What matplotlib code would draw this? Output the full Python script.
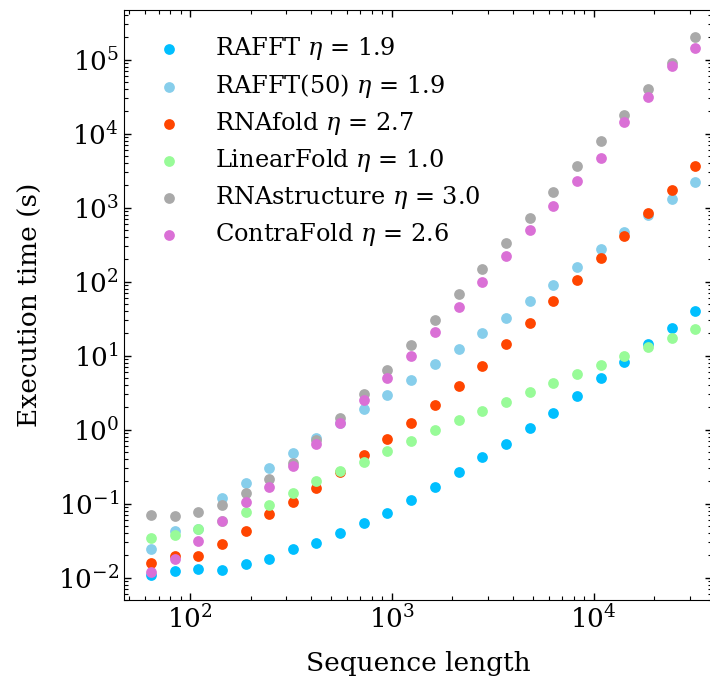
import matplotlib
matplotlib.use('Agg')
import matplotlib.pyplot as plt
from matplotlib.ticker import LogLocator, NullFormatter

plt.rcParams['font.family'] = 'DejaVu Serif'
plt.rcParams['mathtext.fontset'] = 'dejavuserif'
plt.rcParams['font.size'] = 19

# sequence lengths
seq_len = [64, 84, 110, 144, 189, 247, 324, 424, 556, 728, 953, 1249,
           1636, 2143, 2808, 3679, 4819, 6314, 8271, 10836, 14196, 18598,
           24365, 31920]

# execution times in seconds
rafft = [0.0110, 0.0122, 0.0132, 0.0127, 0.0153, 0.0182, 0.0244, 0.0294,
         0.0402, 0.0542, 0.0755, 0.114, 0.170, 0.265, 0.423, 0.647, 1.06,
         1.71, 2.88, 5.04, 8.22, 14.2, 23.7, 39.7]
rafft50 = [0.0247, 0.0432, 0.045, 0.119, 0.190, 0.304, 0.478, 0.772, 1.25,
           1.92, 2.97, 4.74, 7.63, 12.2, 20.3, 32.6, 54.9, 90.2, 158, 277,
           464, 804, 1311, 2198]
rnafold = [0.0158, 0.0194, 0.0194, 0.0285, 0.0432, 0.0726, 0.107, 0.163,
           0.265, 0.459, 0.748, 1.23, 2.13, 3.85, 7.33, 14.2, 27.9, 54.2,
           105, 209, 409, 847, 1713, 3616]
linearfold = [0.034, 0.038, 0.0455, 0.058, 0.0773, 0.0949, 0.141, 0.205,
              0.279, 0.370, 0.515, 0.710, 0.98, 1.35, 1.77, 2.37, 3.23,
              4.27, 5.66, 7.48, 9.91, 13.1, 17.1, 22.7]
rnastructure = [0.0695, 0.0673, 0.0762, 0.0969, 0.141, 0.218, 0.355, 0.733,
                1.44, 3.04, 6.47, 13.8, 30.6, 68.2, 150, 333, 733, 1629,
                3616, 7963, 18060, 40560, 90200, 202800]
contrafold = [0.0119, 0.0181, 0.0316, 0.0577, 0.104, 0.171, 0.327, 0.641,
              1.23, 2.49, 5.00, 10.0, 21.1, 45.9, 100, 220, 493, 1064, 2317,
              4740, 14220, 31000, 81300, 142000]

series = [
    ('RAFFT $\\eta$ = 1.9', rafft, 'deepskyblue'),
    ('RAFFT(50) $\\eta$ = 1.9', rafft50, 'skyblue'),
    ('RNAfold $\\eta$ = 2.7', rnafold, 'orangered'),
    ('LinearFold $\\eta$ = 1.0', linearfold, 'palegreen'),
    ('RNAstructure $\\eta$ = 3.0', rnastructure, 'darkgray'),
    ('ContraFold $\\eta$ = 2.6', contrafold, 'orchid'),
]

fig = plt.figure(figsize=(7.1, 6.79), dpi=100)
ax = fig.add_axes([0.1746, 0.1163, 0.828, 0.869])

for label, values, color in series:
    ax.scatter(seq_len, values, s=60, color=color, linewidths=0, label=label)

ax.set_xscale('log')
ax.set_yscale('log')
ax.set_xlim(47.2, 38500)
ax.set_ylim(5.0e-3, 4.7e5)

ax.yaxis.set_major_locator(LogLocator(base=10, numticks=20))
ax.yaxis.set_minor_locator(LogLocator(base=10, subs=range(2, 10), numticks=20))
ax.yaxis.set_minor_formatter(NullFormatter())
ax.xaxis.set_minor_formatter(NullFormatter())

ax.tick_params(which='both', direction='in', top=True, right=True)
ax.tick_params(which='major', length=5, width=1)
ax.tick_params(which='minor', length=3, width=0.8)

ax.set_xlabel('Sequence length', labelpad=13)
ax.set_ylabel('Execution time (s)', labelpad=11)

ax.legend(loc='upper left', frameon=False, fontsize=17.3, handlelength=1.67,
          handletextpad=1.05, labelspacing=0.415, borderaxespad=0.65,
          scatterpoints=1)

fig.savefig('out.png', dpi=100)
plt.close(fig)
